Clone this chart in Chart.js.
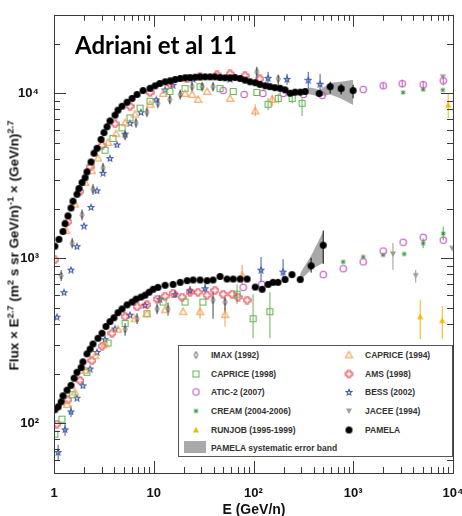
<!DOCTYPE html>
<html>
<head>
<meta charset="utf-8">
<script src="https://cdn.jsdelivr.net/npm/chart.js"></script>
<style>
  html, body { margin: 0; padding: 0; background: #fff; }
  #wrap { position: relative; width: 462px; height: 516px; overflow: hidden; }
  #chart { position: absolute; left: 0; top: 0; }
  .title { position: absolute; left: 75px; top: 30px; line-height: 1; font: bold 24px "Comic Sans MS", "Lato", sans-serif; color: #000; }
  .ytitle { position: absolute; left: 0; top: 0; transform: rotate(-90deg); white-space: nowrap; line-height: 1; font: bold 12px "Liberation Sans", Arial, sans-serif; color: #111; }
  .xtitle { position: absolute; left: 154px; top: 501px; width: 200px; height: 18px; line-height: 18px; text-align: center; white-space: nowrap; font: bold 14px "Liberation Sans", Arial, sans-serif; color: #111; }
  sup { font-size: 70%; line-height: 0; }
  #legend { position: absolute; left: 178px; top: 345px; width: 275px; height: 112px; border: 1px solid #555; background: #fff; box-sizing: border-box; }
  .lg { position: absolute; transform: translateY(-50%); white-space: nowrap; font: bold 8.5px "Liberation Sans", Arial, sans-serif; color: #333; }
  .mk { position: absolute; transform: translate(-50%, -50%); }
  .band { position: absolute; left: 5px; top: 95px; width: 22px; height: 12px; background: #a9a9a9; }
</style>
</head>
<body>
<div id="wrap">
  <canvas id="chart" width="462" height="516"></canvas>
  <div class="title">Adriani et al 11</div>
  <span class="ytitle" id="ytitle">Flux × E<sup>2.7</sup> (m<sup>2</sup> s sr GeV/n)<sup>-1</sup> × (GeV/n)<sup>2.7</sup></span>
  <div class="xtitle">E (GeV/n)</div>
  <div id="legend"></div>
</div>
<script>
// ---- data: proton (upper) and helium (lower) groups, E in GeV/n, flux x E^2.7
const pamelaPE = [1.02,1.12,1.23,1.29,1.38,1.48,1.55,1.70,1.78,1.91,2.05,2.14,2.35,2.52,2.70,2.96,3.17,3.40,3.64,4.09,4.38,4.81,5.40,6.06,6.80,7.81,
  9.18,10.3,11.5,13.0,14.6,16.4,18.4,20.6,23.1,26.0,29.1,32.7,36.7,41.1,46.2,51.8,58.2,65.3,73.4,82.3,92.4,104,116,131,146,164,185,207,233,261,294,329,455,587,756,997];
const pamelaPF = [1186,1305,1456,1625,1812,2022,2224,2449,2656,2884,3087,3350,3845,4345,4653,5265,5795,6286,6819,7398,7925,8370,8850,9340,9863,10420,
  10750,11140,11500,11780,11940,12160,12330,12450,12500,12560,12620,12620,12620,12620,12500,12450,12450,12500,12330,12050,11780,11620,11350,11140,11000,10850,10750,10520,10040,10190,10190,10280,10000,11000,10710,10420];
const pamelaHeE = [1.02,1.10,1.18,1.23,1.35,1.48,1.59,1.70,1.87,1.95,2.14,2.30,2.46,2.76,3.03,3.32,3.64,3.99,4.38,4.81,5.40,6.06,6.64,7.45,8.18,8.98,9.85,11.0,13.0,15.6,18.4,21.6,24.8,29.1,34.2,39.3,46.2,54.3,62.6,73.4,86.2,104,122,140,157,176,207,243,294,378,500];
const pamelaHeF = [121,126,135,147,159,170,188,204,218,236,264,282,303,328,352,387,414,437,469,494,523,544,567,583,599,624,650,668,687,696,716,733,740,740,733,740,777,750,750,750,750,670,650,696,716,716,745,798,745,902,1202];
const pamelaErr = [[455,9700,10300],[587,10000,11780],[756,9863,11460],[997,9340,11300],[378,820,1007],[500,927,1476]];

// systematic error band (E, upper, lower)
const bandPE = [290,330,370,465,590,750,1000];
const bandPHi = [10400,10700,10860,10550,11620,11800,12110];
const bandPLo = [10000,10000,9860,9580,9860,9340,8530];
const bandHeE = [285,300,378,500];
const bandHeHi = [760,830,1037,1455];
const bandHeLo = [720,745,855,940];

const imaxPE = [1.18,1.52,1.91,2.46,3.10,5.16,6.64,8.55,11.0,14.5,18.4,24.2,30.5,39.3,108,177];
const imaxPF = [787,1236,1836,2620,3540,5555,6640,7710,8720,9210,9860,11000,11000,11000,13520,12270];
const imaxHeE = [5.16,6.80,10.8,13.9,39.3,51.8];
const imaxHeF = [372,431,494,494,559,544];
const imaxErr = [[1.18,730,850],[1.52,1150,1330],[1.91,1700,1980],[2.46,2430,2820],[3.10,3300,3800],[5.16,5200,5950],[6.64,6200,7100],
  [8.55,7200,8250],[11.0,8150,9300],[14.5,8600,9850],[18.4,9200,10550],[24.2,10300,11750],[30.5,10300,11750],[39.3,10300,11750],
  [108,12270,14500],[177,11000,13000],[39.3,431,624],[51.8,475,583],[13.9,450,540],[5.16,340,405],[6.80,400,465],[10.8,460,530]];

const cap94PE = [1.32,1.62,2.05,2.40,2.76,3.48,4.19,5.16,6.48,9.18,12.4,20.6,24.2,27.8,34.2,58.2,104,154];
const cap94PF = [1476,2133,2884,3398,4058,5047,5710,6640,7500,8600,10000,10000,9863,9210,10280,9340,7820,9210];
const cap94HeE = [1.35,1.62,2.05,2.58,3.25,4.38,6.48,8.55,13.0,19.7,29.1,51.8,76.9];
const cap94HeF = [130,155,209,257,303,372,431,462,488,475,475,456,787];
const cap94Err = [[104,7300,8600],[154,8370,9863],[76.9,696,915],[51.8,387,509],[29.1,430,520]];

const cap98PE = [3.25,3.90,4.81,5.78,7.30,9.18,14.5,20.6,29.1,46.2,62.6,108,140,177,244,307];
const cap98PF = [4530,5330,6190,7110,8150,8970,10280,10710,11000,10710,10280,10140,8600,9340,9340,8720];
const cap98HeE = [1.02,1.20,1.52,2.14,3.48,5.16,8.55,12.4,20.6,31.1,68.4,99,146];
const cap98HeF = [86,106,149,204,307,403,462,544,544,544,607,431,475];
const cap98Err = [[140,7900,9400],[177,8700,10000],[244,8700,10100],[307,7300,9340],[68.4,530,696],[99,328,607],[146,328,624]];

const amsPE = [1.02,1.38,1.82,2.30,3.03,4.09,5.78,9.18,14.5,21.6,29.1,43.1,58.2,82.3,116];
const amsPF = [980,1670,2553,3590,4842,6550,8370,10140,11460,12270,12620,12970,13150,12800,12270];
const amsHeE = [1.07,1.38,1.82,2.40,3.03,3.81,5.16,6.80,8.55,10.8,13.0,15.6,19.2,23.1,27.8,34.2,41.1,49.6,60.9,70.1,86.2];
const amsHeF = [99,139,182,240,294,352,443,509,523,567,591,615,583,624,624,599,641,607,607,583,559];

const aticPE = [49.6,80.5,124,198,316,487,1257,1995,3093,5024,7980];
const aticPF = [10420,9863,10000,10000,9863,9725,10570,11140,11460,11300,11940];
const aticHeE = [78.7,121,500,792,1257,1995,3160,5020,7980];
const aticHeF = [668,696,798,866,953,1109,1253,1342,1289];
const aticErr = [[1995,10700,11600],[3093,10900,12100],[5024,10700,11900],[7980,11200,12700]];

const bessPE = [1.07,1.26,1.48,1.70,2.00,2.35,2.70,3.10,3.64,4.28,5.16,5.78,7.45,10.6,13.0,15.6,24.8,58.2,140,217,354,465];
const bessPF = [443,624,855,1186,1580,2050,2585,3305,4058,4910,5710,6640,7710,9210,10570,11300,12270,12270,12450,12270,12110,11460];
const bessHeE = [1.10,1.29,1.48,1.70,1.95,2.30,2.70,3.25,4.09,5.78,8.18,11.5,16.4,23.1,32.7,119,198];
const bessHeF = [67,92,118,143,170,215,271,324,376,456,523,567,607,641,659,855,832];
const bessErr = [[140,11460,13520],[217,11300,13150],[354,10710,13520],[465,10000,13150],[119,716,1021],[198,745,990],
  [1.10,60,74],[1.29,84,100],[1.48,109,128],[11.5,535,600],[16.4,575,640],[23.1,605,680],[32.7,620,700]];

const creamPE = [3160,5020,7900];
const creamPF = [10140,10570,10500];
const creamHeE = [792,1257,1995,3240,5020,7980];
const creamHeF = [953,1021,1050,1064,1236,1416];
const creamErr = [[5020,1154,1323],[7980,1289,1560]];

const jaceePE = [7900];
const jaceePF = [12620];
const jaceeHeE = [2500,4230,9800];
const jaceeHeF = [1064,787,1153];
const jaceeErr = [[2500,852,1241],[4230,714,852]];

const runjobPE = [8950];
const runjobPF = [8530];
const runjobHeE = [4690,7800];
const runjobHeF = [443,420];
const runjobErr = [[8950,7110,10000],[4690,324,559],[7800,324,515]];

const xTickText = {1: '1', 10: '10', 100: '10²', 1000: '10³', 10000: '10⁴'};
const yTickText = {100: '10²', 1000: '10³', 10000: '10⁴'};

// ---- marker images
function makeMarker(shape, color, size){
  const c = document.createElement('canvas');
  c.width = size; c.height = size;
  const g = c.getContext('2d');
  const m = size / 2, r = size / 2 - 1;
  g.strokeStyle = color;
  g.fillStyle = color;
  g.lineWidth = 1.1;
  g.beginPath();
  if (shape === 'diamond') {
    g.lineWidth = 0.9;
    g.moveTo(m, m - r); g.lineTo(m + r * 0.5, m); g.lineTo(m, m + r); g.lineTo(m - r * 0.5, m); g.closePath(); g.stroke();
  } else if (shape === 'triangle' || shape === 'filledTriangle') {
    g.moveTo(m, m - r); g.lineTo(m + r, m + r * 0.8); g.lineTo(m - r, m + r * 0.8); g.closePath();
    shape === 'triangle' ? g.stroke() : g.fill();
  } else if (shape === 'downTriangle') {
    g.moveTo(m - r, m - r * 0.8); g.lineTo(m + r, m - r * 0.8); g.lineTo(m, m + r); g.closePath(); g.fill();
  } else if (shape === 'square') {
    g.rect(m - r + 0.5, m - r + 0.5, 2 * r - 1, 2 * r - 1); g.stroke();
  } else if (shape === 'circle') {
    g.arc(m, m, r - 0.3, 0, Math.PI * 2); g.stroke();
  } else if (shape === 'cross') {
    const w = r * 0.42;
    g.moveTo(m - w, m - r); g.lineTo(m + w, m - r); g.lineTo(m + w, m - w); g.lineTo(m + r, m - w);
    g.lineTo(m + r, m + w); g.lineTo(m + w, m + w); g.lineTo(m + w, m + r); g.lineTo(m - w, m + r);
    g.lineTo(m - w, m + w); g.lineTo(m - r, m + w); g.lineTo(m - r, m - w); g.lineTo(m - w, m - w); g.closePath(); g.stroke();
  } else if (shape === 'star') {
    for (let i = 0; i < 10; i++) {
      const a = -Math.PI / 2 + i * Math.PI / 5;
      const rr = i % 2 === 0 ? r : r * 0.45;
      const px = m + rr * Math.cos(a), py = m + 0.5 + rr * Math.sin(a);
      i === 0 ? g.moveTo(px, py) : g.lineTo(px, py);
    }
    g.closePath(); g.stroke();
  } else if (shape === 'xsquare') {
    g.globalAlpha = 0.8;
    g.fillRect(m - r + 0.5, m - r + 0.5, 2 * r - 1, 2 * r - 1);
    g.globalAlpha = 1;
    g.strokeStyle = '#1f5f22';
    g.lineWidth = 1;
    g.moveTo(m - r + 1.5, m - r + 1.5); g.lineTo(m + r - 1.5, m + r - 1.5);
    g.moveTo(m + r - 1.5, m - r + 1.5); g.lineTo(m - r + 1.5, m + r - 1.5); g.stroke();
  } else if (shape === 'dot') {
    g.arc(m, m, r, 0, Math.PI * 2); g.fill();
  }
  return c;
}

const series = [
  {name: 'IMAX (1992)', shape: 'diamond', color: '#444444', size: 9, p: [imaxPE, imaxPF], he: [imaxHeE, imaxHeF], err: imaxErr},
  {name: 'CAPRICE (1994)', shape: 'triangle', color: '#f39a4a', size: 9, p: [cap94PE, cap94PF], he: [cap94HeE, cap94HeF], err: cap94Err},
  {name: 'CAPRICE (1998)', shape: 'square', color: '#62b754', size: 9, p: [cap98PE, cap98PF], he: [cap98HeE, cap98HeF], err: cap98Err},
  {name: 'AMS (1998)', shape: 'cross', color: '#e33a46', size: 9, p: [amsPE, amsPF], he: [amsHeE, amsHeF], err: []},
  {name: 'ATIC-2 (2007)', shape: 'circle', color: '#c24fc0', size: 9, p: [aticPE, aticPF], he: [aticHeE, aticHeF], err: aticErr},
  {name: 'BESS (2002)', shape: 'star', color: '#3c5aa8', size: 8, p: [bessPE, bessPF], he: [bessHeE, bessHeF], err: bessErr},
  {name: 'CREAM (2004-2006)', shape: 'xsquare', color: '#4caf50', size: 7, p: [creamPE, creamPF], he: [creamHeE, creamHeF], err: creamErr},
  {name: 'JACEE (1994)', shape: 'downTriangle', color: '#9d9d8c', size: 8, p: [jaceePE, jaceePF], he: [jaceeHeE, jaceeHeF], err: jaceeErr},
  {name: 'RUNJOB (1995-1999)', shape: 'filledTriangle', color: '#f6b500', size: 8, p: [runjobPE, runjobPF], he: [runjobHeE, runjobHeF], err: runjobErr},
  {name: 'PAMELA', shape: 'dot', color: '#000000', size: 9, p: [pamelaPE, pamelaPF], he: [pamelaHeE, pamelaHeF], err: pamelaErr}
];

function pts(pair){ return pair[0].map((e, i) => ({x: e, y: pair[1][i]})); }
function errPts(list){
  const out = [];
  list.forEach(([e, lo, hi]) => { out.push({x: e, y: lo}, {x: e, y: hi}, {x: e, y: null}); });
  return out;
}

const datasets = [];
// bands first (drawn underneath)
[[bandPE, bandPHi, bandPLo], [bandHeE, bandHeHi, bandHeLo]].forEach(([e, hi, lo]) => {
  datasets.push({type: 'line', data: e.map((v, i) => ({x: v, y: hi[i]})), fill: '+1', backgroundColor: '#a9a9a9',
    borderWidth: 0, pointRadius: 0, order: 9});
  datasets.push({type: 'line', data: e.map((v, i) => ({x: v, y: lo[i]})), fill: false, borderWidth: 0, pointRadius: 0, order: 9});
});
series.forEach((s, k) => {
  if (s.err.length) {
    datasets.push({type: 'line', data: errPts(s.err), borderColor: s.color, borderWidth: 1, pointRadius: 0,
      spanGaps: false, fill: false, order: 8});
  }
  const img = makeMarker(s.shape, s.color, s.size);
  datasets.push({type: 'scatter', data: pts(s.p).concat(pts(s.he)), pointStyle: img, pointRadius: 4,
    showLine: false, order: s.name === 'PAMELA' ? 1 : 2 + k * 0.01});
});

// inward ticks on all four sides plus the frame
const frameTicks = {
  id: 'frameTicks',
  afterDatasetsDraw(chart){
    const {ctx, chartArea: a, scales} = chart;
    ctx.save();
    ctx.strokeStyle = '#3a3a3a';
    ctx.lineWidth = 1;
    ctx.strokeRect(Math.round(a.left) + 0.5, Math.round(a.top) + 0.5, Math.round(a.right - a.left), Math.round(a.bottom - a.top));
    const isDecade = v => Math.abs(Math.log10(v) - Math.round(Math.log10(v))) < 1e-6;
    ctx.beginPath();
    scales.x.ticks.forEach(t => {
      const px = Math.round(scales.x.getPixelForValue(t.value)) + 0.5;
      const len = isDecade(t.value) ? 12 : 6;
      ctx.moveTo(px, a.bottom); ctx.lineTo(px, a.bottom - len);
      ctx.moveTo(px, a.top); ctx.lineTo(px, a.top + len);
    });
    scales.y.ticks.forEach(t => {
      const py = Math.round(scales.y.getPixelForValue(t.value)) + 0.5;
      const len = isDecade(t.value) ? 12 : 6;
      ctx.moveTo(a.left, py); ctx.lineTo(a.left + len, py);
      ctx.moveTo(a.right, py); ctx.lineTo(a.right - len, py);
    });
    ctx.stroke();
    ctx.restore();
  }
};

function logTicks(min, max){
  const out = [];
  for (let d = Math.floor(Math.log10(min)); d <= Math.ceil(Math.log10(max)); d++) {
    for (let m = 1; m <= 9; m++) {
      const v = m * Math.pow(10, d);
      if (v >= min * 0.999 && v <= max * 1.001) out.push({value: v});
    }
  }
  return out;
}

const tickFont = {family: '"Liberation Sans", Arial, sans-serif', size: 13, weight: 'bold'};

new Chart(document.getElementById('chart'), {
  type: 'scatter',
  data: {datasets},
  options: {
    responsive: false,
    animation: false,
    devicePixelRatio: 1,
    layout: {padding: {top: 8, right: 9, left: 0, bottom: 0}},
    plugins: {legend: {display: false}, tooltip: {enabled: false}},
    scales: {
      x: {
        type: 'logarithmic', min: 1, max: 10000, position: 'bottom',
        grid: {display: false}, border: {display: false},
        afterBuildTicks: s => { s.ticks = logTicks(1, 10000); },
        afterFit: s => { s.height = 43; s.paddingLeft = 0; s.paddingRight = 0; },
        ticks: {autoSkip: false, maxRotation: 0, minRotation: 0, padding: 5, color: '#111', font: tickFont,
          callback: v => xTickText[Math.round(v)] && Math.abs(v - Math.round(v)) < 1e-6 ? xTickText[Math.round(v)] : ''}
      },
      y: {
        type: 'logarithmic', min: 50, max: 30000,
        grid: {display: false}, border: {display: false},
        afterBuildTicks: s => { s.ticks = logTicks(50, 30000); },
        afterFit: s => { s.width = 54; },
        ticks: {autoSkip: false, padding: 7, color: '#111', font: tickFont,
          callback: v => yTickText[Math.round(v)] && Math.abs(v - Math.round(v)) < 1e-6 ? yTickText[Math.round(v)] : ''}
      }
    }
  },
  plugins: [frameTicks]
});

// ---- y title: fit its rotated box to span y 120..370 centred at x 14
const yt = document.getElementById('ytitle');
let rb = yt.getBoundingClientRect();
yt.style.fontSize = (12 * 250 / rb.height).toFixed(2) + 'px';
rb = yt.getBoundingClientRect();
yt.style.left = (14 - (rb.left + rb.width / 2)) + 'px';
yt.style.top = (245 - (rb.top + rb.height / 2)) + 'px';

// ---- legend box (html)
const legend = document.getElementById('legend');
const colX = [[17, 32], [170, 186]];
const rowY = [9, 28, 46, 65, 84];
const legendOrder = ['IMAX (1992)', 'CAPRICE (1994)', 'CAPRICE (1998)', 'AMS (1998)', 'ATIC-2 (2007)', 'BESS (2002)',
  'CREAM (2004-2006)', 'JACEE (1994)', 'RUNJOB (1995-1999)', 'PAMELA'];
legendOrder.forEach((name, i) => {
  const s = series.find(d => d.name === name);
  const [mx, tx] = colX[i % 2];
  const y = rowY[Math.floor(i / 2)];
  const mk = makeMarker(s.shape, s.color, s.size);
  mk.className = 'mk';
  mk.style.left = mx + 'px'; mk.style.top = y + 'px';
  legend.appendChild(mk);
  const t = document.createElement('div');
  t.className = 'lg';
  t.style.left = tx + 'px'; t.style.top = y + 'px';
  t.textContent = name;
  legend.appendChild(t);
});
const sw = document.createElement('div');
sw.className = 'band';
legend.appendChild(sw);
const bt = document.createElement('div');
bt.className = 'lg';
bt.style.left = '32px'; bt.style.top = '102px';
bt.textContent = 'PAMELA systematic error band';
legend.appendChild(bt);
</script>
</body>
</html>
